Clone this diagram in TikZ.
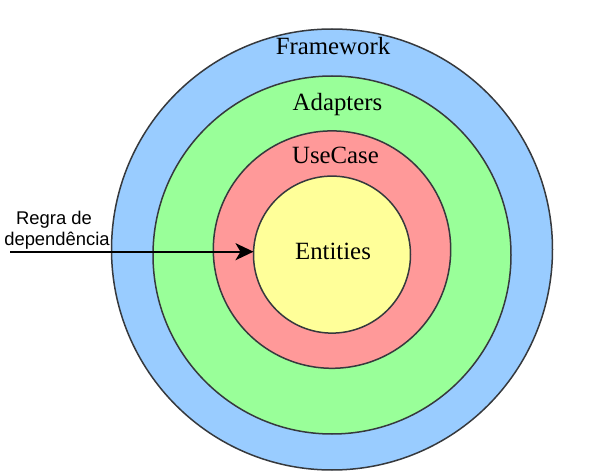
\documentclass[tikz,border=0pt]{standalone}
\usepackage{fontspec}
\setmainfont{Liberation Serif}
\newfontfamily\labelsans{Liberation Sans}
\usetikzlibrary{arrows.meta}
\definecolor{ringblue}{HTML}{99CCFF}
\definecolor{ringgreen}{HTML}{99FF99}
\definecolor{ringred}{HTML}{FF9999}
\definecolor{ringyellow}{HTML}{FFFF99}
\definecolor{ringline}{HTML}{36393D}
\begin{document}
\begin{tikzpicture}[x=1pt,y=-1pt,
  ring/.style={circle, draw=ringline, line width=1.5pt, inner sep=0pt, outer sep=0pt},
  ringlabel/.style={anchor=base, inner sep=0pt, font=\fontsize{24.8}{28}\selectfont},
  rulelabel/.style={anchor=base, inner sep=0pt, font=\labelsans\fontsize{18.4}{20}\selectfont},
  arrowline/.style={line width=2pt, black, -{Stealth[length=18pt,width=17pt,inset=5pt]}}]
\useasboundingbox (0,0) rectangle (595,476);
\node[ring, fill=ringblue, minimum size=441pt] (framework) at (332,249.5) {};
\node[ring, fill=ringgreen, minimum size=358pt] (adapters) at (332,255) {};
\node[ring, fill=ringred, minimum size=237.4pt] (usecase) at (332,249.6) {};
\node[ring, fill=ringyellow, minimum size=157pt] (entities) at (332,254.6) {};
\node[ringlabel] (frameworklabel) at (333,54.3) {Framework};
\node[ringlabel] (adapterslabel) at (337.5,110.7) {Adapters};
\node[ringlabel] (usecaselabel) at (335.5,163.3) {UseCase};
\node[ringlabel] (entitieslabel) at (333,259.3) {Entities};
\coordinate (rulestart) at (10,251.7);
\draw[arrowline] (rulestart) -- (rulestart -| entities.west);
\node[rulelabel] (ruletop) at (54,225) {Regra de};
\node[rulelabel] (rulebottom) at (57,245) {dependência};
\end{tikzpicture}
\end{document}
